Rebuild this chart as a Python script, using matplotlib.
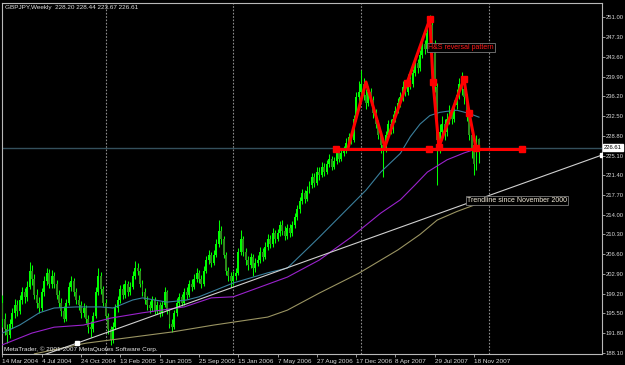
import numpy as np
import matplotlib.pyplot as plt

plt.rcParams['font.family'] = ['Liberation Sans', 'DejaVu Sans']

# weekly GBPJPY bars, 14 Mar 2004 .. 2 Dec 2007
opens = [
    197.5, 194.5, 192.5, 191.5, 193.5, 195.5, 197.0, 196.0, 198.0, 199.5,
    198.5, 200.5, 203.5, 202.0, 199.0, 197.5, 196.5, 199.5, 201.5, 203.0,
    201.0, 202.5, 201.0, 199.0, 197.5, 196.0, 194.5, 197.5, 200.5, 201.5,
    199.5, 198.0, 197.0, 195.5, 196.5, 194.5, 193.0, 192.5, 195.0, 199.5,
    202.5, 200.0, 197.5, 195.0, 192.5, 190.5, 193.0, 196.5, 198.0, 200.0,
    199.0, 201.0, 199.5, 200.5, 202.5, 204.0, 203.5, 201.0, 199.5, 198.0,
    197.0, 196.5, 198.0, 196.0, 197.0, 195.5, 197.0, 199.5, 196.0, 193.5,
    193.0, 195.5, 197.5, 198.5, 197.5, 199.5, 199.0, 201.0, 200.5, 202.0,
    203.0, 202.0, 201.0, 203.5, 205.5, 206.5, 205.0, 206.5, 208.5, 211.0,
    209.5, 206.5, 203.5, 202.5, 201.5, 202.5, 203.0, 207.0, 209.5, 207.0,
    205.5, 204.5, 206.0, 204.0, 205.0, 205.5, 207.0, 206.0, 208.0, 209.5,
    208.5, 210.5, 209.5, 210.5, 212.0, 211.0, 210.0, 211.5, 210.5, 212.0,
    213.5, 215.0, 216.5, 218.0, 217.0, 218.5, 219.5, 221.0, 220.0, 222.0,
    221.5, 223.0, 222.0, 223.5, 224.5, 223.0, 224.0, 225.5, 224.5, 225.5,
    226.0, 227.5, 228.5, 228.0, 232.0, 236.0, 237.0, 238.5, 236.5, 235.0,
    237.0, 235.5, 233.0, 231.0, 229.0, 227.0, 226.5, 229.0, 231.0, 230.0,
    232.0, 233.5, 235.0, 236.0, 238.0, 237.0, 239.5, 238.5, 240.5, 242.5,
    241.5, 244.0, 246.0, 245.0, 248.0, 249.5, 246.0, 238.0, 228.0, 229.5,
    231.0, 229.5, 232.0, 233.5, 232.0, 234.5, 236.5, 238.5, 237.5, 236.0,
    232.5, 229.0, 226.0, 223.5, 228.20,
]
highs = [
    199.0, 195.5, 193.5, 194.5, 196.5, 198.2, 198.0, 199.0, 200.4, 200.3,
    201.5, 205.2, 204.5, 202.8, 200.0, 198.5, 200.2, 202.5, 204.0, 203.8,
    203.6, 203.2, 201.8, 199.8, 198.4, 196.8, 198.2, 201.3, 202.5, 202.2,
    200.2, 198.9, 197.8, 197.4, 197.0, 195.2, 194.0, 195.8, 200.4, 204.0,
    203.2, 200.6, 198.2, 195.6, 193.2, 193.8, 197.2, 198.8, 200.8, 201.0,
    201.8, 201.6, 201.4, 203.4, 205.4, 205.0, 204.0, 201.8, 200.2, 198.8,
    197.8, 198.8, 198.6, 197.8, 197.6, 197.8, 200.5, 199.9, 196.4, 194.4,
    196.2, 198.3, 199.4, 199.2, 200.3, 200.4, 201.8, 201.9, 202.9, 204.0,
    203.6, 202.6, 204.3, 206.3, 207.4, 207.0, 207.3, 209.4, 213.0, 211.8,
    210.0, 207.0, 204.2, 203.2, 203.4, 204.0, 207.8, 211.2, 210.0, 207.8,
    206.3, 206.9, 206.6, 205.9, 206.4, 207.9, 207.8, 208.8, 210.4, 210.2,
    211.5, 211.2, 211.3, 212.8, 213.0, 211.8, 212.3, 212.2, 212.8, 214.3,
    215.8, 217.3, 218.9, 218.7, 219.4, 220.4, 221.9, 221.8, 222.9, 223.0,
    223.8, 223.7, 224.3, 225.3, 225.0, 224.8, 226.3, 226.2, 226.3, 226.9,
    228.3, 229.4, 229.5, 232.8, 237.0, 239.0, 241.2, 239.6, 237.6, 238.2,
    237.8, 236.2, 233.8, 231.8, 229.8, 228.0, 229.8, 231.8, 232.0, 232.9,
    234.4, 235.9, 237.0, 239.0, 238.8, 240.4, 240.3, 241.4, 243.4, 243.2,
    244.9, 246.9, 246.8, 249.0, 251.5, 250.3, 246.8, 238.8, 231.0, 232.5,
    232.0, 233.0, 234.5, 234.2, 235.5, 237.6, 239.6, 240.8, 238.4, 236.6,
    233.2, 229.6, 226.8, 229.0, 228.44,
]
lows = [
    193.0, 191.5, 190.0, 190.8, 192.8, 194.6, 195.0, 195.3, 197.2, 197.5,
    197.8, 200.0, 200.8, 198.2, 196.5, 195.5, 196.0, 198.8, 200.8, 200.2,
    200.3, 200.2, 198.2, 196.6, 195.0, 193.8, 194.0, 197.0, 199.6, 198.8,
    197.2, 196.1, 194.7, 194.8, 193.6, 191.8, 191.0, 192.0, 194.6, 199.0,
    199.2, 196.8, 194.2, 191.6, 189.5, 190.0, 192.6, 195.8, 197.4, 198.2,
    198.4, 198.8, 198.9, 200.0, 202.0, 202.6, 200.4, 198.8, 197.2, 196.2,
    195.6, 196.0, 195.3, 195.4, 194.8, 195.0, 196.6, 195.4, 192.8, 192.0,
    192.6, 195.0, 196.9, 196.8, 197.0, 198.2, 198.6, 199.7, 200.0, 201.4,
    201.2, 200.2, 200.6, 203.0, 204.8, 204.2, 204.5, 206.0, 208.0, 208.6,
    205.8, 202.6, 201.6, 200.4, 200.9, 201.8, 202.6, 206.4, 206.2, 204.6,
    203.6, 204.0, 202.5, 203.3, 204.3, 205.0, 205.3, 205.6, 207.4, 207.8,
    208.0, 208.7, 209.0, 210.0, 210.2, 209.2, 209.5, 209.8, 210.0, 211.5,
    213.0, 214.4, 216.0, 216.2, 216.5, 218.0, 219.0, 219.2, 219.6, 220.6,
    221.0, 221.2, 221.6, 223.0, 222.3, 222.5, 223.6, 223.8, 224.0, 225.0,
    225.6, 227.0, 227.2, 227.6, 231.5, 235.0, 236.2, 235.6, 233.8, 234.4,
    234.6, 232.2, 230.2, 228.2, 225.5, 221.1, 225.8, 228.4, 229.2, 229.4,
    231.4, 233.0, 234.3, 235.4, 236.2, 236.5, 237.6, 238.0, 240.0, 240.6,
    241.0, 243.4, 244.2, 244.6, 247.4, 245.2, 237.0, 219.5, 225.5, 228.2,
    228.0, 228.8, 231.0, 231.0, 231.4, 233.8, 235.8, 236.4, 234.8, 231.6,
    228.0, 224.6, 221.5, 222.4, 223.67,
]
closes = [
    194.5, 192.5, 191.5, 193.5, 195.5, 197.0, 196.0, 198.0, 199.5, 198.5,
    200.5, 203.5, 202.0, 199.0, 197.5, 196.5, 199.5, 201.5, 203.0, 201.0,
    202.5, 201.0, 199.0, 197.5, 196.0, 194.5, 197.5, 200.5, 201.5, 199.5,
    198.0, 197.0, 195.5, 196.5, 194.5, 193.0, 192.5, 195.0, 199.5, 202.5,
    200.0, 197.5, 195.0, 192.5, 190.5, 193.0, 196.5, 198.0, 200.0, 199.0,
    201.0, 199.5, 200.5, 202.5, 204.0, 203.5, 201.0, 199.5, 198.0, 197.0,
    196.5, 198.0, 196.0, 197.0, 195.5, 197.0, 199.5, 196.0, 193.5, 193.0,
    195.5, 197.5, 198.5, 197.5, 199.5, 199.0, 201.0, 200.5, 202.0, 203.0,
    202.0, 201.0, 203.5, 205.5, 206.5, 205.0, 206.5, 208.5, 211.0, 209.5,
    206.5, 203.5, 202.5, 201.5, 202.5, 203.0, 207.0, 209.5, 207.0, 205.5,
    204.5, 206.0, 204.0, 205.0, 205.5, 207.0, 206.0, 208.0, 209.5, 208.5,
    210.5, 209.5, 210.5, 212.0, 211.0, 210.0, 211.5, 210.5, 212.0, 213.5,
    215.0, 216.5, 218.0, 217.0, 218.5, 219.5, 221.0, 220.0, 222.0, 221.5,
    223.0, 222.0, 223.5, 224.5, 223.0, 224.0, 225.5, 224.5, 225.5, 226.0,
    227.5, 228.5, 228.0, 232.0, 236.0, 237.0, 238.5, 236.5, 235.0, 237.0,
    235.5, 233.0, 231.0, 229.0, 227.0, 226.5, 229.0, 231.0, 230.0, 232.0,
    233.5, 235.0, 236.0, 238.0, 237.0, 239.5, 238.5, 240.5, 242.5, 241.5,
    244.0, 246.0, 245.0, 248.0, 249.5, 246.0, 238.0, 228.0, 229.5, 231.0,
    229.5, 232.0, 233.5, 232.0, 234.5, 236.5, 238.5, 237.5, 236.0, 232.5,
    229.0, 226.0, 223.5, 228.2, 226.61,
]

# moving averages, sampled at bar index
ma1_idx = [0, 7, 15, 21, 30, 40, 45, 53, 57, 67, 75, 80, 94, 108, 116, 125,
           129, 140, 148, 154, 162, 166, 170, 174, 178, 181, 185, 190, 194]
ma1_val = [191.8, 193.3, 195.6, 196.5, 196.7, 196.7, 196.5, 198.0, 198.4,
           197.6, 198.0, 198.6, 201.2, 203.1, 204.0, 208.0, 209.8, 214.9,
           218.6, 222.0, 225.5, 228.6, 231.0, 232.6, 233.2, 233.4, 233.6,
           233.0, 232.3]
ma2_idx = [0, 12, 21, 33, 44, 57, 74, 85, 94, 116, 129, 142, 154, 162, 168,
           173, 181, 188, 194]
ma2_val = [189.6, 191.8, 192.9, 193.3, 194.6, 195.6, 196.7, 198.4, 198.6,
           202.3, 205.5, 209.8, 214.3, 216.8, 219.6, 222.0, 224.3, 225.6,
           226.5]
ma3_idx = [13, 34, 69, 86, 108, 116, 129, 145, 161, 170, 177, 185, 192, 194]
ma3_val = [187.9, 189.9, 192.0, 193.3, 194.8, 196.1, 199.3, 203.0, 207.4,
           210.3, 213.0, 214.6, 215.8, 216.2]

# trendline since Nov 2000 and the head & shoulders drawing
trend_idx = [10, 30.3, 244.1]
trend_val = [186.6, 189.9, 225.2]
hs_idx = [140.7, 148, 155.7, 164.7, 174, 175.3, 177.7, 187.9, 190, 192.8]
hs_val = [226.5, 238.9, 226.7, 238.7, 250.7, 238.9, 226.7, 239.5, 233.1,
          226.5]
hs_marks = [3, 4, 5, 6, 7, 8, 9]
neck_idx = [135.8, 173.7, 211.5]
neck_val = [226.4, 226.4, 226.4]

y_ticks = [251.00, 247.30, 243.60, 239.90, 236.20, 232.50, 228.80, 225.10,
           221.40, 217.70, 214.00, 210.30, 206.60, 202.90, 199.20, 195.50,
           191.80, 188.10]
date_labels = ['14 Mar 2004', '4 Jul 2004', '24 Oct 2004', '13 Feb 2005',
               '5 Jun 2005', '25 Sep 2005', '15 Jan 2006', '7 May 2006',
               '27 Aug 2006', '17 Dec 2006', '8 Apr 2007', '29 Jul 2007',
               '18 Nov 2007']
year_starts = [42, 94, 146, 198]
bid = 226.61

o = np.array(opens)
h = np.array(highs)
l = np.array(lows)
c = np.array(closes)
bars = np.arange(len(c))
up = c >= o

fig = plt.figure(figsize=(6.25, 3.65), dpi=100, facecolor='black')
ax = fig.add_axes([2 / 625, 11 / 365, 600 / 625, 351 / 365], facecolor='black')

for x in year_starts:
    ax.axvline(x, color='#8c8c8c', lw=0.8, ls=(0, (1.5, 1.5)), zorder=1)
ax.axhline(bid, color='#34505c', lw=1.0, zorder=2)

ax.vlines(bars, l, h, color='#00ff00', lw=0.75, zorder=3)
ax.bar(bars[up], (c - o)[up], bottom=o[up], width=0.8, color='#00ff00',
       lw=0, zorder=4)
ax.bar(bars[~up], (o - c)[~up], bottom=c[~up], width=0.8, color='#2e8a1c',
       lw=0, zorder=4)

ax.plot(ma1_idx, ma1_val, color='#3a7f9c', lw=0.8, zorder=5)
ax.plot(ma2_idx, ma2_val, color='#9a22cc', lw=0.8, zorder=5)
ax.plot(ma3_idx, ma3_val, color='#9a9462', lw=0.8, zorder=5)
ax.plot(trend_idx, trend_val, color='#d0d0d0', lw=0.8, zorder=6)
ax.plot(trend_idx[1:], trend_val[1:], 's', color='white', ms=2.2, zorder=6)

ax.plot(neck_idx, neck_val, color='#ff0000', lw=2.2, marker='s', ms=4,
        zorder=7)
ax.plot(hs_idx, hs_val, color='#ff0000', lw=2.2, zorder=7)
ax.plot([hs_idx[i] for i in hs_marks], [hs_val[i] for i in hs_marks], 's',
        color='#ff0000', ms=4, zorder=7)

ax.text(173.3, 245.3, 'H&S reversal pattern', color='#ff1a1a', fontsize=5,
        ha='left', va='center', zorder=8,
        bbox=dict(facecolor='black', edgecolor='#7a7a7a', lw=0.6, pad=0.8))
ax.text(189.1, 216.7, 'Trendline since November 2000', color='#f2ead8',
        fontsize=5, ha='left', va='center', zorder=8,
        bbox=dict(facecolor='black', edgecolor='#7a7a7a', lw=0.6, pad=0.8))

ax.set_xlim(-0.2, 244.1)
ax.set_ylim(187.87, 253.72)

ax.yaxis.tick_right()
ax.set_yticks(y_ticks)
ax.set_yticklabels([f'{v:.2f}' for v in y_ticks])
ax.set_xticks(np.arange(0, 16 * len(date_labels), 16))
ax.set_xticklabels(date_labels, ha='left')
ax.tick_params(axis='y', colors='#b0b0b0', labelcolor='#d8d8d8', length=2,
               width=0.6, labelsize=4.2, pad=0.6)
ax.tick_params(axis='x', colors='#b0b0b0', labelcolor='#d8d8d8', length=2.5,
               width=0.6, labelsize=4.6, pad=1.0)
for s in ax.spines.values():
    s.set_color('#b8b8b8')
    s.set_linewidth(0.8)

ax.text(1.003, bid, f'{bid:.2f}', transform=ax.get_yaxis_transform(),
        fontsize=4.2, color='black', ha='left', va='center', zorder=9,
        bbox=dict(facecolor='white', edgecolor='white', pad=0.5),
        clip_on=False)

fig.text(5 / 625, 1 - 7 / 365,
         'GBPJPY,Weekly  228.20 228.44 223.67 226.61',
         color='#e0e0e0', fontsize=4.6, va='center', ha='left')
fig.text(4 / 625, 1 - 349 / 365,
         'MetaTrader, \u00a9 2001-2007 MetaQuotes Software Corp.',
         color='#e8e8e8', fontsize=4.6, va='center', ha='left')

fig.savefig('out.png', dpi=100, facecolor='black')
